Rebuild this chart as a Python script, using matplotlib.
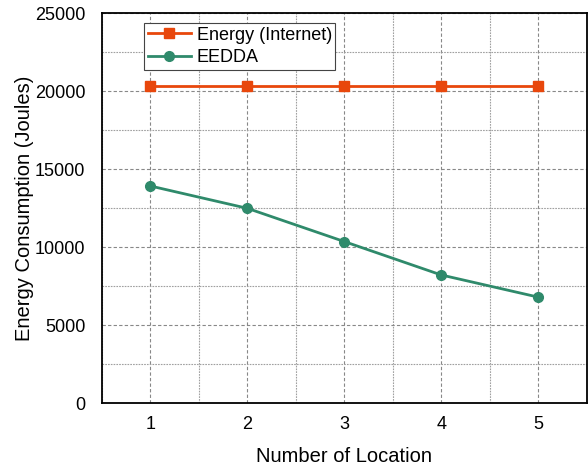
import matplotlib.pyplot as plt
from matplotlib.ticker import MultipleLocator

plt.rcParams['font.family'] = ['Liberation Sans', 'DejaVu Sans']

locations = [1, 2, 3, 4, 5]
energy_internet = [20350, 20350, 20350, 20350, 20350]
eedda = [13930, 12500, 10370, 8230, 6810]

fig = plt.figure(figsize=(5.88, 4.69), dpi=100)
ax = fig.add_axes([0.1735, 0.140, 0.824, 0.8316])

ax.plot(locations, energy_internet, marker='s', markersize=7, color='#e8470c',
        linewidth=2, label='Energy (Internet)')
ax.plot(locations, eedda, marker='o', markersize=7, color='#2f8a6b',
        linewidth=2, label='EEDDA')

ax.set_xlim(0.5, 5.5)
ax.set_ylim(0, 25000)
ax.set_xticks(locations)
ax.yaxis.set_major_locator(MultipleLocator(5000))
ax.yaxis.set_minor_locator(MultipleLocator(2500))
ax.xaxis.set_minor_locator(MultipleLocator(0.5))
ax.grid(True, which='major', linestyle=(0, (3, 2)), color='#888888', linewidth=0.8)
ax.grid(True, which='minor', linestyle=(0, (1.5, 1)), color='#a0a0a0', linewidth=0.8)
ax.set_axisbelow(True)
ax.tick_params(which='both', length=0, labelsize=13)
ax.tick_params(axis='x', pad=9)
ax.tick_params(axis='y', pad=12)
for s in ax.spines.values():
    s.set_linewidth(1.3)

ax.set_xlabel('Number of Location', fontsize=14.5, labelpad=10)
ax.set_ylabel('Energy Consumption (Joules)', fontsize=14.5)
ax.yaxis.set_label_coords(-0.14, 0.5)

leg = ax.legend(loc='upper left', bbox_to_anchor=(0.087, 0.975), fontsize=13,
                fancybox=False, edgecolor='#444444', framealpha=1,
                borderaxespad=0, handlelength=2.4, handletextpad=0.3,
                borderpad=0.2, labelspacing=0.3)
leg.get_frame().set_linewidth(0.8)

fig.savefig('out.png', dpi=100)
